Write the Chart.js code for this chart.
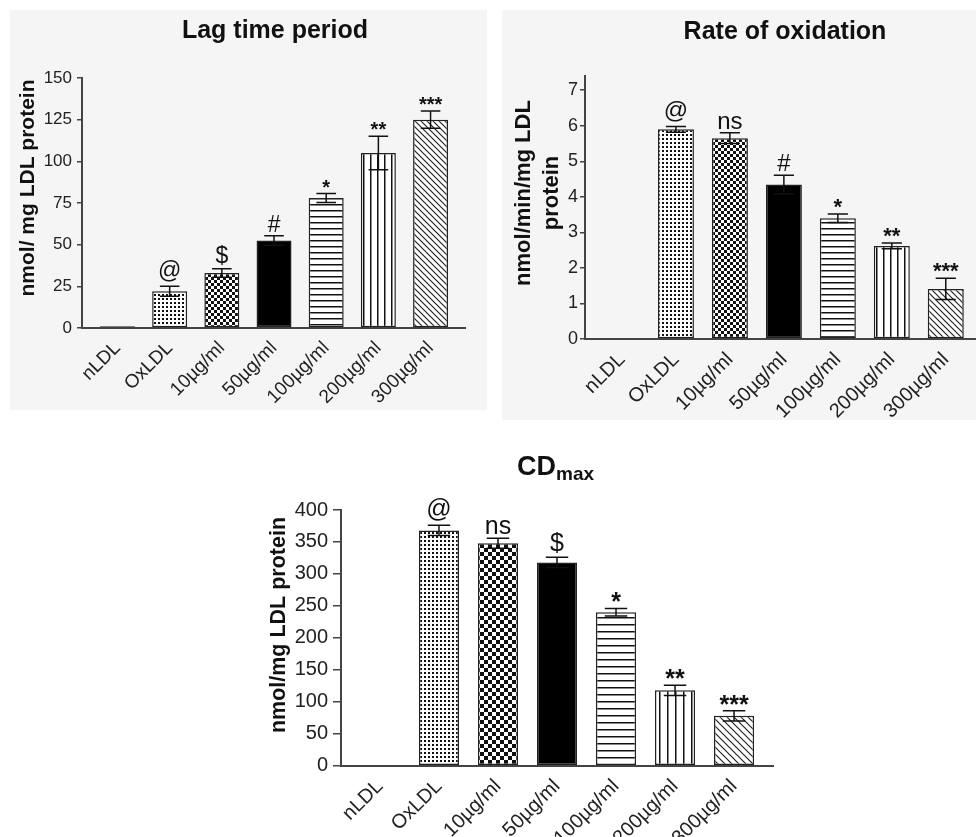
<!DOCTYPE html>
<html><head><meta charset="utf-8">
<script src="https://cdn.jsdelivr.net/npm/chart.js@4"></script>
<style>
html,body{margin:0;padding:0;background:#fff;width:976px;height:837px;overflow:hidden;position:relative}
.bg{position:absolute;background:#f5f5f5}
canvas{position:absolute}
</style></head><body>
<div class="bg" style="left:10px;top:10px;width:477px;height:400px"></div>
<div class="bg" style="left:502px;top:10px;width:474px;height:410px"></div>
<canvas id="c1" width="477" height="400" style="left:10px;top:10px"></canvas>
<canvas id="c2" width="474" height="410" style="left:502px;top:10px"></canvas>
<canvas id="c3" width="736" height="397" style="left:240px;top:440px"></canvas>
<script>
const categories = ['nLDL', 'OxLDL', '10µg/ml', '50µg/ml', '100µg/ml', '200µg/ml', '300µg/ml'];

const lagValues = [1, 22, 33, 52.5, 78, 105, 125];
const lagErrors = [0, 3, 2.5, 2.8, 2.7, 10, 5.2];
const lagMarks = ['', '@', '$', '#', '*', '**', '***'];
const lagTicks = [0, 25, 50, 75, 100, 125, 150];

const rateValues = [0, 5.9, 5.65, 4.35, 3.4, 2.62, 1.41];
const rateErrors = [0, 0.08, 0.15, 0.26, 0.12, 0.08, 0.3];
const rateMarks = ['', '@', 'ns', '#', '*', '**', '***'];
const rateTicks = [0, 1, 2, 3, 4, 5, 6, 7];

const cdValues = [0, 368, 348, 318, 240, 118, 78];
const cdErrors = [0, 8, 8, 8, 6, 8, 8];
const cdMarks = ['', '@', 'ns', '$', '*', '**', '***'];
const cdTicks = [0, 50, 100, 150, 200, 250, 300, 350, 400];

const FONT = '"Liberation Sans", Arial, sans-serif';

function makePattern(w, h, draw) {
  const c = document.createElement('canvas');
  c.width = w; c.height = h;
  const g = c.getContext('2d');
  g.fillStyle = '#fff'; g.fillRect(0, 0, w, h);
  draw(g, w, h);
  return c.getContext('2d').createPattern(c, 'repeat');
}
function makeFills(k) {
  const dot = makePattern(4, 4, g => { g.fillStyle = '#111'; g.fillRect(0, 0, 2, 2); });
  const s = k > 1 ? 4 : 3;
  const checker = makePattern(2 * s, 2 * s, g => { g.fillStyle = '#111'; g.fillRect(0, 0, s, s); g.fillRect(s, s, s, s); });
  const hp = Math.round(6 * k);
  const hl = makePattern(4, hp, g => { g.fillStyle = '#111'; g.fillRect(0, 2, 4, 1); g.fillStyle = '#888'; g.fillRect(0, 3, 4, 1); });
  const vp = Math.round(7 * k);
  const vl = makePattern(vp, 4, g => { g.fillStyle = '#111'; g.fillRect(3, 0, 1, 4); g.fillStyle = '#888'; g.fillRect(4, 0, 1, 4); });
  const dp = Math.round(6 * k);
  const dg = makePattern(dp, dp, (g, w) => {
    g.strokeStyle = '#222'; g.lineWidth = 1.2;
    g.beginPath();
    for (let j = -1; j <= 1; j++) { g.moveTo(j * w - 1, -1); g.lineTo(j * w + w + 1, w + 1); }
    g.stroke();
  });
  return ['#333', dot, checker, '#000', hl, vl, dg];
}

function makeAnnot(cfg) {
  return {
    id: 'annot',
    afterDatasetsDraw(chart) {
      const ctx = chart.ctx;
      const ds = chart.data.datasets[0];
      const meta = chart.getDatasetMeta(0);
      const y = chart.scales.y;
      ctx.save();
      meta.data.forEach((bar, i) => {
        const v = ds.data[i].y, e = ds.errors[i];
        const cx = bar.x;
        const yt = y.getPixelForValue(v + e);
        if (e > 0) {
          const yb = y.getPixelForValue(v - e);
          const half = bar.width * cfg.capRatio / 2;
          ctx.strokeStyle = '#111'; ctx.lineWidth = 1.5;
          ctx.beginPath();
          ctx.moveTo(cx, yt); ctx.lineTo(cx, yb);
          ctx.moveTo(cx - half, yt); ctx.lineTo(cx + half, yt);
          ctx.moveTo(cx - half, yb); ctx.lineTo(cx + half, yb);
          ctx.stroke();
        }
        const mark = ds.marks[i];
        if (mark) {
          const star = /^\*+$/.test(mark);
          ctx.font = star ? `bold ${cfg.starSize}px ${FONT}` : `${cfg.symSize}px ${FONT}`;
          ctx.textAlign = 'center'; ctx.textBaseline = 'alphabetic';
          ctx.fillStyle = '#111';
          const m = ctx.measureText(mark);
          const gap = star ? 6 : 4;
          ctx.fillText(mark, cx, yt - gap - m.actualBoundingBoxDescent);
        }
      });
      ctx.restore();
    }
  };
}

function makeTexts(items) {
  return {
    id: 'texts',
    afterDraw(chart) {
      const ctx = chart.ctx;
      items.forEach(it => {
        ctx.save();
        ctx.fillStyle = '#111';
        if (it.rotate) {
          ctx.translate(it.x, it.y); ctx.rotate(-Math.PI / 2);
          ctx.font = `bold ${it.size}px ${FONT}`;
          ctx.textAlign = 'center'; ctx.textBaseline = 'middle';
          const n = it.lines.length;
          it.lines.forEach((l, i) => ctx.fillText(l, 0, (i - (n - 1) / 2) * (it.lineH || 0)));
        } else if (it.parts) {
          let x = it.x;
          ctx.textAlign = 'left'; ctx.textBaseline = 'alphabetic';
          it.parts.forEach(pt => {
            ctx.font = `bold ${pt.size}px ${FONT}`;
            ctx.fillText(pt.text, x, it.y + (pt.dy || 0));
            x += ctx.measureText(pt.text).width;
          });
        } else {
          ctx.font = `bold ${it.size}px ${FONT}`;
          ctx.textAlign = 'center'; ctx.textBaseline = 'alphabetic';
          ctx.fillText(it.text, it.x, it.y);
        }
        ctx.restore();
      });
    }
  };
}

function panel(id, p) {
  return new Chart(document.getElementById(id), {
    type: 'bar',
    data: {
      datasets: [{
        data: p.values.map((v, i) => ({ x: i, y: v })),
        errors: p.errors, marks: p.marks,
        backgroundColor: makeFills(p.patScale),
        borderColor: '#222', borderWidth: 1.5, borderSkipped: false,
        barPercentage: p.barPct, categoryPercentage: 1
      }]
    },
    options: {
      responsive: false, animation: false, devicePixelRatio: 1,
      layout: { padding: p.pad },
      plugins: { legend: { display: false }, tooltip: { enabled: false } },
      scales: {
        x: {
          type: 'linear', min: p.xMin, max: p.xMax, offset: false,
          afterBuildTicks: s => { s.ticks = categories.map((c, i) => ({ value: i })); },
          afterFit: s => { s.height = p.xH; },
          grid: { display: false, offset: false },
          border: { display: true, color: '#444', width: 2 },
          ticks: { autoSkip: false, minRotation: 45, maxRotation: 45, padding: p.xPad, color: '#222',
                   font: { family: FONT, size: p.xFont }, callback: v => categories[v] }
        },
        y: {
          min: 0, max: p.yMax,
          afterBuildTicks: s => { s.ticks = p.ticks.map(v => ({ value: v })); },
          afterFit: s => { s.width = p.yW; },
          grid: { drawOnChartArea: false, drawTicks: true, tickLength: p.tickLen, color: '#444', lineWidth: 1.5 },
          border: { display: true, color: '#444', width: 2 },
          ticks: { padding: p.yPad, color: '#222', font: { family: FONT, size: p.yFont } }
        }
      }
    },
    plugins: [makeAnnot({ capRatio: 0.56, symSize: p.symSize, starSize: p.starSize }), makeTexts(p.texts)]
  });
}

panel('c1', {
  values: lagValues, errors: lagErrors, marks: lagMarks, ticks: lagTicks,
  xMin: -0.68, xMax: 6.66, barPct: 0.67, yMax: 150, patScale: 1,
  yW: 72, xH: 82, pad: { left: 0, right: 22, top: 68, bottom: 0 },
  tickLen: 5, yPad: 5, xPad: 1, yFont: 17, xFont: 19, symSize: 23, starSize: 20,
  texts: [
    { text: 'Lag time period', x: 265, y: 28, size: 25 },
    { rotate: true, lines: ['nmol/ mg LDL protein'], x: 18.5, y: 178, size: 21 }
  ]
});

panel('c2', {
  values: rateValues, errors: rateErrors, marks: rateMarks, ticks: rateTicks,
  xMin: -0.685, xMax: 6.56, barPct: 0.667, yMax: 7.4, patScale: 1,
  yW: 83, xH: 81, pad: { left: 0, right: 0, top: 66, bottom: 0 },
  tickLen: 5, yPad: 2, xPad: 1, yFont: 18, xFont: 20, symSize: 24, starSize: 22,
  texts: [
    { text: 'Rate of oxidation', x: 283, y: 29, size: 25 },
    { rotate: true, lines: ['nmol/min/mg LDL', 'protein'], x: 35.75, y: 183, size: 22, lineH: 28.5 }
  ]
});

panel('c3', {
  values: cdValues, errors: cdErrors, marks: cdMarks, ticks: cdTicks,
  xMin: -0.66, xMax: 6.66, barPct: 0.68, yMax: 400, patScale: 1.2,
  yW: 101, xH: 71.3, pad: { left: 0, right: 203, top: 70, bottom: 0 },
  tickLen: 8, yPad: 5, xPad: 1, yFont: 20, xFont: 20, symSize: 25, starSize: 25,
  texts: [
    { parts: [{ text: 'CD', size: 27 }, { text: 'max', size: 19, dy: 5 }], x: 277, y: 35 },
    { rotate: true, lines: ['nmol/mg LDL protein'], x: 39, y: 185, size: 21.5 }
  ]
});
</script>
</body></html>
